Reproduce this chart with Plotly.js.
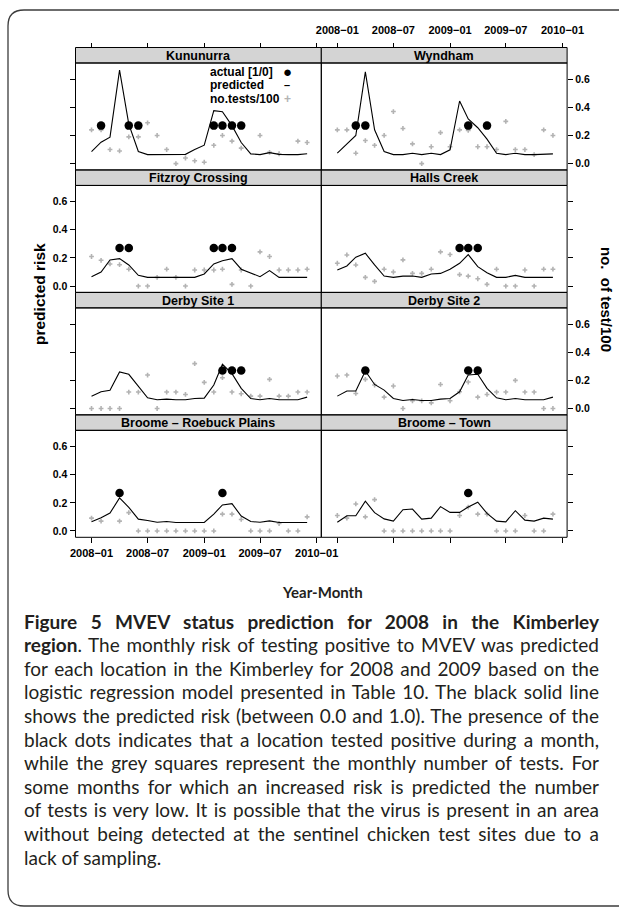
<!DOCTYPE html>
<html><head><meta charset="utf-8">
<script src="https://cdn.plot.ly/plotly-3.0.1.min.js"></script>
<style>html,body{margin:0;padding:0;background:#fff;}#chart{width:619px;height:908px;}</style>
</head><body><div id="chart"></div>
<script>
// ---------- data ----------
const months = ['2008-01','2008-02','2008-03','2008-04','2008-05','2008-06','2008-07','2008-08','2008-09','2008-10','2008-11','2008-12',
                '2009-01','2009-02','2009-03','2009-04','2009-05','2009-06','2009-07','2009-08','2009-09','2009-10','2009-11','2009-12'];
const locations = ['Kununurra','Wyndham','Fitzroy Crossing','Halls Creek','Derby Site 1','Derby Site 2','Broome \u2013 Roebuck Plains','Broome \u2013 Town'];
const xTickLabels = ['2008\u221201','2008\u221207','2009\u221201','2009\u221207','2010\u221201'];
const xTickDates  = ['2008-01-01','2008-07-01','2009-01-01','2009-07-01','2010-01-01'];
const yTickLabels = ['0.0','0.2','0.4','0.6'];
const yTickVals   = [0, 0.2, 0.4, 0.6];

const predKununurra  = [0.086,0.152,0.188,0.664,0.28,0.086,0.064,0.064,0.068,0.064,0.066,0.10,0.131,0.376,0.369,0.27,0.15,0.069,0.064,0.078,0.066,0.064,0.064,0.07];
const testsKununurra = [0.24,0.24,0.10,0.09,0.19,0.19,0.29,0.20,0.10,0.00,0.04,0.02,0.01,0.13,0.20,0.16,0.11,null,0.20,0.08,0.07,null,0.16,0.15];
const actualKununurra= [0,1,0,0,1,1,0,0,0,0,0,0,0,1,1,1,1,0,0,0,0,0,0,0];

const predWyndham  = [0.074,0.14,0.20,0.652,0.24,0.086,0.064,0.064,0.074,0.064,0.074,0.064,0.098,0.445,0.317,0.255,0.174,0.074,0.064,0.074,0.064,0.064,0.064,0.069];
const testsWyndham = [0.24,0.24,0.074,0.164,0.13,0.20,0.37,0.25,0.14,0.0,0.12,0.22,0.12,0.24,0.236,0.12,0.12,0.10,0.30,0.10,0.10,0.064,0.24,0.20];
const actualWyndham= [0,0,1,1,0,0,0,0,0,0,0,0,0,0,1,0,1,0,0,0,0,0,0,0];

const predFitzroy  = [0.067,0.10,0.186,0.195,0.15,0.076,0.062,0.062,0.067,0.062,0.062,0.062,0.086,0.157,0.18,0.195,0.12,0.095,0.067,0.11,0.062,0.062,0.062,0.062];
const testsFitzroy = [0.21,0.183,0.157,0.152,0.12,0.0,0.0,0.062,0.12,0.062,0.0,0.114,0.114,0.114,0.12,0.012,0.114,0.0,0.243,0.21,0.114,0.114,0.114,0.12];
const actualFitzroy= [0,0,0,1,1,0,0,0,0,0,0,0,0,1,1,1,0,0,0,0,0,0,0,0];

const predHalls  = [0.114,0.143,0.205,0.233,0.15,0.071,0.062,0.071,0.071,0.062,0.086,0.09,0.119,0.162,0.224,0.138,0.095,0.062,0.062,0.076,0.062,0.062,0.062,0.062];
const testsHalls = [0.162,0.221,0.15,0.062,0.033,0.12,0.10,0.186,0.09,0.09,0.12,0.243,0.224,0.081,0.071,0.052,0.012,0.12,0.0,0.0,0.114,0.0,0.12,0.12];
const actualHalls= [0,0,0,0,0,0,0,0,0,0,0,0,0,1,1,1,0,0,0,0,0,0,0,0];

const predDerby1  = [0.088,0.119,0.129,0.26,0.243,0.155,0.076,0.062,0.067,0.062,0.062,0.071,0.074,0.167,0.314,0.248,0.143,0.071,0.062,0.071,0.062,0.062,0.062,0.081];
const testsDerby1 = [0.0,0.0,0.0,0.0,0.117,0.117,0.238,0.0,0.117,0.117,0.10,0.319,0.186,0.117,0.219,0.117,0.105,0.088,0.088,0.207,0.088,0.088,0.117,0.117];
const actualDerby1= [0,0,0,0,0,0,0,0,0,0,0,0,0,0,1,1,1,0,0,0,0,0,0,0];

const predDerby2  = [0.088,0.124,0.124,0.267,0.171,0.131,0.071,0.057,0.064,0.057,0.057,0.067,0.071,0.119,0.238,0.243,0.143,0.076,0.062,0.071,0.062,0.062,0.062,0.081];
const testsDerby2 = [0.231,0.238,0.107,0.207,0.167,0.081,0.16,0.0,0.055,0.055,0.04,0.171,0.055,0.119,0.188,0.081,0.10,0.117,0.117,0.20,0.117,0.117,0.0,0.0];
const actualDerby2= [0,0,0,1,0,0,0,0,0,0,0,0,0,0,1,1,0,0,0,0,0,0,0,0];

const predBroomeRP  = [0.065,0.094,0.127,0.235,0.168,0.084,0.074,0.062,0.067,0.06,0.06,0.06,0.06,0.12,0.185,0.194,0.106,0.067,0.062,0.072,0.06,0.06,0.06,0.06];
const testsBroomeRP = [0.091,0.07,null,0.07,0.13,0,0,0,0,0,0,0,0,0,0.12,0.12,0.082,0,0,0,0.053,0,0,0.1];
const actualBroomeRP= [0,0,0,1,0,0,0,0,0,0,0,0,0,0,1,0,0,0,0,0,0,0,0,0];

const predBroomeTown  = [0.062,0.108,0.108,0.211,0.13,0.086,0.07,0.151,0.156,0.084,0.091,0.173,0.132,0.132,0.17,0.204,0.125,0.07,0.065,0.144,0.077,0.07,0.091,0.084];
const testsBroomeTown = [0.11,0.091,0.192,0.10,0.223,0,0,0,0,0,0,0,0,0.11,0.17,0.12,0.12,0,0,0,0.11,0,0,0.12];
const actualBroomeTown= [0,0,0,0,0,0,0,0,0,0,0,0,0,0,1,0,0,0,0,0,0,0,0,0];

const predicted = [predKununurra,predWyndham,predFitzroy,predHalls,predDerby1,predDerby2,predBroomeRP,predBroomeTown];
const tests     = [testsKununurra,testsWyndham,testsFitzroy,testsHalls,testsDerby1,testsDerby2,testsBroomeRP,testsBroomeTown];
const actual    = [actualKununurra,actualWyndham,actualFitzroy,actualHalls,actualDerby1,actualDerby2,actualBroomeRP,actualBroomeTown];

const legendLabels = ['actual [1/0]','predicted','no.tests/100'];
const captionLines = [
  '<b>Figure 5 MVEV status prediction for 2008 in the Kimberley</b>',
  '<b>region</b>. The monthly risk of testing positive to MVEV was predicted',
  'for each location in the Kimberley for 2008 and 2009 based on the',
  'logistic regression model presented in Table 10. The black solid line',
  'shows the predicted risk (between 0.0 and 1.0). The presence of the',
  'black dots indicates that a location tested positive during a month,',
  'while the grey squares represent the monthly number of tests. For',
  'some months for which an increased risk is predicted the number',
  'of tests is very low. It is possible that the virus is present in an area',
  'without being detected at the sentinel chicken test sites due to a',
  'lack of sampling.'
];

// ---------- layout helpers ----------
const W = 619, H = 908;
const fx = p => p / W, fy = p => 1 - p / H;
const colX = [[75.5, 321.3], [321.3, 567.1]];
const ROW0 = 47.5, ROWH = 122.45, STRIPH = 15.5;
const DOT_LEVEL = 0.27;
const FONT = 'Liberation Sans, Arial, Helvetica, sans-serif';
const CAPFAMILY = 'Lato';
const CAPFONT = 'Lato, Open Sans, sans-serif';
const CAP_LEFT = 22, CAP_RIGHT = 597;
const dates = months.map(m => m + '-01');

// caption font size: the tightest justified line just fills the text block
const cv = document.createElement('canvas').getContext('2d');
function measureLine(line, size) {
  let w = 0;
  line.split(/(<b>.*?<\/b>)/).forEach(seg => {
    if (!seg) return;
    const bold = seg.startsWith('<b>');
    cv.font = (bold ? 'bold ' : '') + size + 'px ' + CAPFAMILY;
    w += cv.measureText(seg.replace(/<\/?b>/g, '')).width;
  });
  return w;
}
const maxNat = Math.max(...captionLines.slice(0, -1).map(l => measureLine(l, 18)));
const capSize = Math.max(15, Math.min(19, 18 * (CAP_RIGHT - CAP_LEFT - 3) / maxNat));

const data = [], shapes = [], annotations = [];
const layout = {
  width: W, height: H, margin: {l:0, r:0, t:0, b:0},
  paper_bgcolor: '#fff', plot_bgcolor: '#fff', showlegend: false,
  font: {family: FONT, color: '#000'}
};

locations.forEach((loc, p) => {
  const row = Math.floor(p / 2), col = p % 2;
  const sfx = p === 0 ? '' : String(p + 1);
  const rowTop = ROW0 + ROWH * row, plotTop = rowTop + STRIPH, plotBot = rowTop + ROWH;
  const [x0, x1] = colX[col];
  const xa = {
    domain: [fx(x0), fx(x1)], anchor: 'y' + sfx, type: 'date',
    range: ['2007-11-10', '2010-01-16'], tickvals: xTickDates, ticktext: xTickLabels,
    showgrid: false, zeroline: false, showline: false,
    ticks: (row === 0 || row === 3) ? 'outside' : '', ticklen: 5, tickwidth: 1, tickcolor: '#000',
    showticklabels: (row === 0 && col === 1) || (row === 3 && col === 0),
    side: row === 0 ? 'top' : 'bottom',
    tickfont: {family: FONT, size: 11, color: '#000', weight: 'bold'}, fixedrange: true
  };
  if (row === 0) { xa.anchor = 'free'; xa.position = fy(rowTop); xa.ticklabelstandoff = 4; }
  layout['xaxis' + sfx] = xa;
  layout['yaxis' + sfx] = {
    domain: [fy(plotBot), fy(plotTop)], anchor: 'x' + sfx, range: [-0.045, 0.715],
    tickvals: yTickVals, ticktext: yTickLabels, showgrid: false, zeroline: false, showline: false,
    ticks: 'outside', ticklen: 5, tickwidth: 1, tickcolor: '#000',
    side: col === 0 ? 'left' : 'right',
    showticklabels: col === 0 ? (row % 2 === 1) : (row % 2 === 0),
    tickfont: {family: FONT, size: 10.5, color: '#000', weight: 'bold'}, fixedrange: true
  };
  const xr = 'x' + sfx, yr = 'y' + sfx;
  data.push({type: 'scatter', mode: 'markers', x: dates, y: tests[p], xaxis: xr, yaxis: yr,
    marker: {symbol: 'cross', size: 4, color: '#b3b3b3'}, hoverinfo: 'skip', cliponaxis: false});
  data.push({type: 'scatter', mode: 'lines', x: dates, y: predicted[p], xaxis: xr, yaxis: yr,
    line: {color: '#000', width: 1.1}, hoverinfo: 'skip'});
  data.push({type: 'scatter', mode: 'markers', x: dates, y: actual[p].map(a => a ? DOT_LEVEL : null), xaxis: xr, yaxis: yr,
    marker: {symbol: 'circle', size: 8.5, color: '#000'}, hoverinfo: 'skip'});
  // strip
  shapes.push({type: 'rect', xref: 'paper', yref: 'paper', x0: fx(x0), x1: fx(x1), y0: fy(plotTop), y1: fy(rowTop),
    fillcolor: '#d4d4d4', line: {color: '#000', width: 1}, layer: 'below'});
  // panel border
  shapes.push({type: 'rect', xref: 'paper', yref: 'paper', x0: fx(x0), x1: fx(x1), y0: fy(plotBot), y1: fy(plotTop),
    line: {color: '#000', width: 1}, layer: 'above'});
  annotations.push({xref: 'paper', yref: 'paper', x: fx((x0 + x1) / 2), y: fy(rowTop + STRIPH / 2 + 0.5),
    text: loc, showarrow: false, xanchor: 'center', yanchor: 'middle',
    font: {family: FONT, size: 12.5, color: '#000', weight: 'bold'}});
});

// legend (inside first panel)
const legY = [72, 85.5, 99];
const legSym = ['\u25CF', '\u2013', '+'];
const legCol = ['#000', '#000', '#b3b3b3'];
const legSize = [15, 11, 12];
legendLabels.forEach((t, i) => {
  annotations.push({xref: 'paper', yref: 'paper', x: fx(208), y: fy(legY[i]), text: t, showarrow: false,
    xanchor: 'left', yanchor: 'middle', font: {family: FONT, size: 12, color: '#000', weight: 'bold'}});
  annotations.push({xref: 'paper', yref: 'paper', x: fx(287), y: fy(legY[i]), text: legSym[i], showarrow: false,
    xanchor: 'center', yanchor: 'middle', font: {family: FONT, size: legSize[i], color: legCol[i], weight: 'bold'}});
});

// axis titles
annotations.push({xref: 'paper', yref: 'paper', x: fx(40), y: fy(294), text: 'predicted risk', textangle: -90,
  showarrow: false, xanchor: 'center', yanchor: 'middle', font: {family: FONT, size: 15.5, color: '#000', weight: 'bold'}});
annotations.push({xref: 'paper', yref: 'paper', x: fx(606), y: fy(299), text: 'no.&nbsp;&nbsp;of test/100', textangle: 90,
  showarrow: false, xanchor: 'center', yanchor: 'middle', font: {family: FONT, size: 15, color: '#000', weight: 'bold'}});
annotations.push({xref: 'paper', yref: 'paper', x: fx(322), y: fy(592), text: 'Year-Month',
  showarrow: false, xanchor: 'center', yanchor: 'middle', font: {family: CAPFONT, size: 15, color: '#231f20', weight: 'bold'}});

// caption
const capStart = annotations.length;
captionLines.forEach((t, k) => {
  annotations.push({xref: 'paper', yref: 'paper', x: fx(CAP_LEFT), y: fy(621 + 23.6 * k), text: t, showarrow: false,
    xanchor: 'left', yanchor: 'middle', align: 'left', font: {family: CAPFONT, size: capSize, color: '#231f20'}});
});

// outer rounded frame
const P = (x, y) => fx(x) + ',' + fy(y);
shapes.push({type: 'path', xref: 'paper', yref: 'paper',
  path: 'M' + P(640, 10) + ' L' + P(24, 10) + ' Q' + P(8, 10) + ' ' + P(8, 26) + ' L' + P(8, 890) + ' Q' + P(8, 906) + ' ' + P(24, 906) + ' L' + P(640, 906),
  line: {color: '#3c3c3c', width: 1.3}});

layout.shapes = shapes;
layout.annotations = annotations;

Plotly.newPlot('chart', data, layout, {staticPlot: true, displayModeBar: false}).then(gd => {
  // justify caption lines (all but last) to the text block width
  const target = CAP_RIGHT - CAP_LEFT;
  for (let k = 0; k < captionLines.length - 1; k++) {
    const g = gd.querySelector('g.annotation[data-index="' + (capStart + k) + '"]');
    if (!g) continue;
    const t = g.querySelector('text.annotation-text');
    if (!t) continue;
    const w = t.getComputedTextLength();
    const spaces = (t.textContent.match(/ /g) || []).length;
    if (spaces > 0) t.style.wordSpacing = ((target - w) / spaces) + 'px';
  }
});
</script>
</body></html>
